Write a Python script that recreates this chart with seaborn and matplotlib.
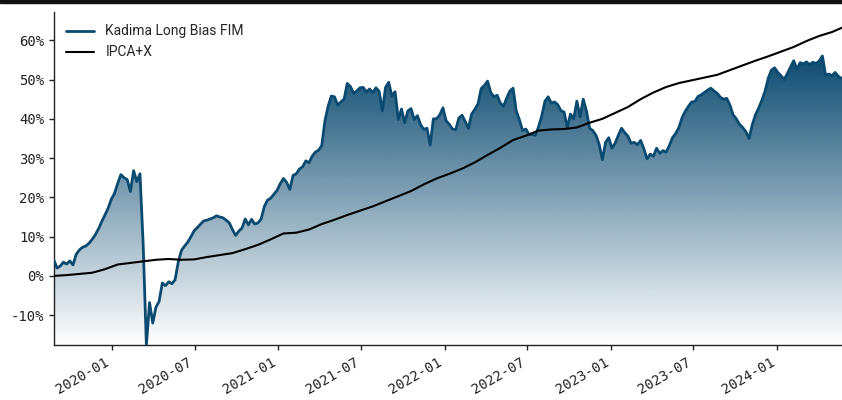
import numpy as np
import pandas as pd
import matplotlib
matplotlib.use("Agg")
import matplotlib.pyplot as plt
import matplotlib.dates as mdates
from matplotlib.colors import to_rgb
from matplotlib.patches import Rectangle
from matplotlib.ticker import FuncFormatter, MultipleLocator
import seaborn as sns

# Cumulative return (%) of the fund, weekly closes
kadima = [
    4.0, 2.0, 2.5, 3.5, 3.0, 3.8, 2.8, 5.5, 6.6, 7.3,
    7.6, 8.3, 9.3, 10.5, 12.0, 13.8, 15.5, 17.2, 19.5, 21.0,
    23.5, 25.8, 25.0, 24.5, 21.5, 26.8, 24.0, 26.0, 8.0, -17.6,
    -6.8, -12.0, -8.0, -6.5, -1.8, -2.5, -1.5, -2.0, -1.0, 3.5,
    6.5, 7.6, 8.6, 10.0, 11.5, 12.3, 13.2, 14.0, 14.2, 14.5,
    14.8, 15.3, 15.0, 14.8, 14.2, 13.5, 11.8, 10.3, 11.4, 12.2,
    14.5, 13.0, 14.4, 13.2, 13.5, 14.5, 17.7, 19.3, 19.8, 20.8,
    21.8, 23.5, 24.8, 23.8, 22.0, 25.6, 26.0, 27.2, 27.8, 29.3,
    28.8, 30.5, 31.5, 32.0, 33.2, 39.5, 43.2, 45.8, 45.6, 43.5,
    44.3, 45.0, 49.0, 48.2, 46.5, 47.1, 47.9, 48.0, 46.8, 47.6,
    46.7, 47.9, 47.0, 42.0, 48.0, 49.3, 45.8, 46.9, 39.8, 42.5,
    39.0, 42.0, 42.6, 39.8, 40.8, 38.5, 37.3, 37.6, 33.3, 40.0,
    40.0, 41.0, 42.8, 39.5, 38.6, 37.4, 37.2, 40.2, 40.9, 39.3,
    37.6, 41.2, 42.4, 43.8, 47.7, 48.5, 49.6, 46.7, 45.6, 46.0,
    44.0, 43.2, 45.3, 47.1, 47.8, 42.0, 39.7, 37.0, 37.4, 36.0,
    36.0, 35.8, 38.0, 40.8, 44.5, 45.6, 44.0, 44.3, 43.6, 42.1,
    41.7, 37.8, 41.2, 40.0, 44.5, 40.5, 45.0, 42.0, 37.6, 37.0,
    35.8, 33.5, 29.6, 34.0, 35.2, 32.5, 33.8, 35.8, 37.6, 36.5,
    35.6, 33.8, 34.0, 33.4, 34.5, 32.4, 29.8, 31.0, 30.5, 32.5,
    31.2, 31.9, 31.5, 33.2, 35.2, 36.3, 37.8, 40.3, 41.9, 43.2,
    44.3, 44.4, 45.7, 46.1, 46.7, 47.3, 47.8, 47.1, 46.5, 45.5,
    45.0, 45.2, 43.5, 41.0, 40.0, 38.6, 37.8, 36.7, 35.0, 38.5,
    41.0, 42.7, 44.7, 47.0, 50.3, 52.4, 53.0, 51.8, 51.0, 50.0,
    51.5, 53.2, 54.8, 52.6, 54.3, 54.0, 54.5, 53.8, 54.4, 54.1,
    54.7, 56.0, 51.1, 51.4, 51.0, 51.8, 50.8, 50.3, 50.3,
]

# Benchmark IPCA+X (%), every 4 weeks
ipca = [
    0.0, 0.2, 0.5, 0.8, 1.7, 2.9, 3.3, 3.7, 4.1, 4.3,
    4.1, 4.2, 4.8, 5.3, 5.8, 6.8, 7.9, 9.3, 10.8, 11.0,
    11.8, 13.2, 14.3, 15.5, 16.6, 17.7, 19.0, 20.3, 21.6, 23.3,
    24.8, 26.0, 27.3, 28.9, 30.8, 32.6, 34.6, 35.7, 37.0, 37.3,
    37.4, 37.8, 39.0, 40.0, 41.5, 43.0, 45.0, 46.7, 48.1, 49.1,
    49.8, 50.5, 51.2, 52.4, 53.6, 54.8, 55.9, 57.1, 58.3, 59.8,
    61.1, 62.1, 63.5,
]

start = "2019-08-27"
kadima_dates = pd.date_range(start, periods=len(kadima), freq="7D")
ipca_dates = pd.date_range(start, periods=len(ipca), freq="28D")

fund_color = "#0b4a70"

sns.set_style("ticks")
fig = plt.figure(figsize=(8.42, 4), dpi=100)
ax = fig.add_axes([0.064, 0.1375, 0.936, 0.8325])

sns.lineplot(x=kadima_dates, y=kadima, ax=ax, color=fund_color, lw=2,
             label="Kadima Long Bias FIM", zorder=4)
sns.lineplot(x=ipca_dates, y=ipca, ax=ax, color="black", lw=1.5,
             label="IPCA+X", zorder=5)

# gradient under the fund curve
ymin, ymax = min(kadima), max(kadima)
poly = ax.fill_between(kadima_dates, kadima, ymin, facecolor="none", edgecolor="none")
grad = np.zeros((256, 1, 4))
grad[..., :3] = to_rgb(fund_color)
grad[..., 3] = np.linspace(0, 1, 256)[:, None]
xnum = mdates.date2num(kadima_dates)
im = ax.imshow(grad, aspect="auto", origin="lower",
               extent=[xnum[0], xnum[-1], ymin, ymax], zorder=2)
im.set_clip_path(poly.get_paths()[0], transform=ax.transData)

ax.set_xlim(pd.Timestamp(start), pd.Timestamp("2024-05-22"))
ax.set_ylim(-17.6, 67.2)
ax.set_xlabel("")
ax.set_ylabel("")

ax.yaxis.set_major_locator(MultipleLocator(10))
ax.yaxis.set_major_formatter(FuncFormatter(lambda v, p: f"{v:.0f}%"))
ax.xaxis.set_major_locator(mdates.MonthLocator(bymonth=[1, 7]))
ax.xaxis.set_major_formatter(mdates.DateFormatter("%Y-%m"))

ax.tick_params(labelsize=10, colors="#222222", length=3.5, width=1)
for lab in ax.get_xticklabels() + ax.get_yticklabels():
    lab.set_family("DejaVu Sans Mono")
plt.setp(ax.get_xticklabels(), rotation=30, ha="right")

sns.despine(ax=ax)
for s in ["left", "bottom"]:
    ax.spines[s].set_color("#222222")
    ax.spines[s].set_linewidth(1)

ax.legend(loc="upper left", frameon=False, prop={"family": "Roboto", "size": 10})

# dark strip along the top edge
fig.patches.append(Rectangle((0, 1 - 3 / 400), 1, 3 / 400, transform=fig.transFigure,
                             color="#111111", zorder=10))

fig.savefig("out.png", dpi=100)
